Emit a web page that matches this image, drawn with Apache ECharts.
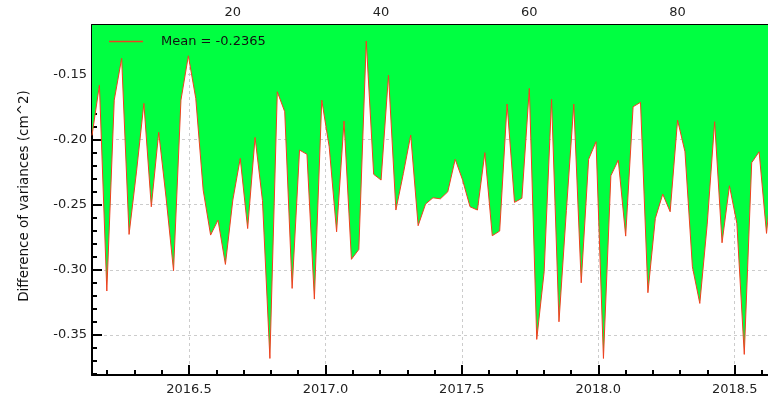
<!DOCTYPE html>
<html>
<head>
<meta charset="utf-8">
<script src="https://cdn.jsdelivr.net/npm/echarts@6/dist/echarts.min.js"></script>
<style>html,body{margin:0;padding:0;background:#fff}#c{width:768px;height:398px}</style>
</head>
<body>
<div id="c"></div>
<script>
// Difference of variances per acquisition index (index 1..93)
const diffValues = [
  -0.197, -0.1584, -0.3163, -0.1699, -0.1379, -0.2729, -0.225, -0.1724, -0.2517, -0.1946,
  -0.245, -0.3007, -0.1699, -0.1359, -0.1686, -0.2389, -0.2734, -0.2619, -0.2959, -0.2465,
  -0.2146, -0.2684, -0.1985, -0.247, -0.368, -0.1635, -0.1788, -0.3143, -0.2082, -0.2115,
  -0.3225, -0.1699, -0.2057, -0.2709, -0.186, -0.292, -0.2844, -0.1246, -0.2268, -0.2312,
  -0.1507, -0.2542, -0.2263, -0.1967, -0.2662, -0.2496, -0.2448, -0.2456, -0.2402, -0.2153,
  -0.2312, -0.2517, -0.2542, -0.2102, -0.2739, -0.2703, -0.1729, -0.2483, -0.2452, -0.1609,
  -0.3534, -0.3015, -0.1693, -0.3399, -0.2546, -0.1729, -0.31, -0.2153, -0.2018, -0.368,
  -0.2279, -0.2159, -0.2742, -0.175, -0.1716, -0.3176, -0.2606, -0.242, -0.2555, -0.1852,
  -0.2095, -0.2977, -0.3258, -0.265, -0.1865, -0.2793, -0.2356, -0.2644, -0.3649, -0.2179,
  -0.2095, -0.2721, -0.215
];
const firstIndex = 1;
const legendLabel = 'Mean = -0.2365';
const yTitle = 'Difference of variances (cm^2)';

const yearTicks = [2016.5, 2017.0, 2017.5, 2018.0, 2018.5];
const yearMinorTicks = [2016.2, 2016.3, 2016.4, 2016.6, 2016.7, 2016.8, 2016.9, 2017.1, 2017.2, 2017.3, 2017.4,
  2017.6, 2017.7, 2017.8, 2017.9, 2018.1, 2018.2, 2018.3, 2018.4, 2018.6];
const indexTicks = [20, 40, 60, 80];
const indexMinorTicks = [5, 10, 15, 25, 30, 35, 45, 50, 55, 65, 70, 75, 85, 90];
const yTicks = [-0.35, -0.30, -0.25, -0.20, -0.15];
const yMinorTicks = [-0.38, -0.37, -0.36, -0.34, -0.33, -0.32, -0.31, -0.29, -0.28, -0.27, -0.26,
  -0.24, -0.23, -0.22, -0.21, -0.19, -0.18, -0.17, -0.16, -0.14, -0.13, -0.12];

// visible window (the reference is cropped at the right edge)
const yearRange = [2016.1445, 2018.622];
const indexRange = [1, 92.2];
const yRange = [-0.3807, -0.1123];

const FONT = 'DejaVu Sans';
const seriesData = diffValues.map((v, i) => [firstIndex + i, v]);

const chart = echarts.init(document.getElementById('c'), null, {renderer: 'canvas'});
const axisLineStyle = {show: true, lineStyle: {color: '#000', width: 2}};
const dashed = {show: true, lineStyle: {color: '#cccccc', width: 1, type: [3, 3]}};
const labelStyle = {color: '#222', fontFamily: FONT, fontSize: 13};

chart.setOption({
  animation: false,
  backgroundColor: '#fff',
  grid: {left: 92, top: 25, right: 0, bottom: 23, containLabel: false},
  legend: {
    show: true, left: 104, top: 30, icon: 'rect', itemWidth: 34, itemHeight: 1.5,
    textStyle: {fontFamily: FONT, fontSize: 13, color: '#111', padding: [0, 0, 0, 13]},
    data: [legendLabel]
  },
  xAxis: [
    { // bottom: decimal year
      type: 'value', position: 'bottom', min: yearRange[0], max: yearRange[1],
      axisLine: axisLineStyle,
      axisTick: {show: true, inside: true, length: 10, lineStyle: {color: '#000', width: 2}, customValues: yearTicks},
      axisLabel: Object.assign({show: true, margin: 8, customValues: yearTicks, formatter: v => v.toFixed(1)}, labelStyle),
      splitLine: dashed
    },
    { // top: index
      type: 'value', position: 'top', min: indexRange[0], max: indexRange[1],
      axisLine: axisLineStyle,
      axisTick: {show: true, inside: true, length: 10, lineStyle: {color: '#000', width: 2}, customValues: indexTicks},
      axisLabel: Object.assign({show: true, margin: 6, customValues: indexTicks, formatter: v => String(v)}, labelStyle),
      splitLine: {show: false}
    },
    { // bottom minor
      type: 'value', position: 'bottom', min: yearRange[0], max: yearRange[1],
      axisLine: {show: false},
      axisTick: {show: true, inside: true, length: 5, lineStyle: {color: '#000', width: 2}, customValues: yearMinorTicks},
      axisLabel: {show: false}, splitLine: {show: false}
    },
    { // top minor
      type: 'value', position: 'top', min: indexRange[0], max: indexRange[1],
      axisLine: {show: false},
      axisTick: {show: true, inside: true, length: 5, lineStyle: {color: '#000', width: 2}, customValues: indexMinorTicks},
      axisLabel: {show: false}, splitLine: {show: false}
    }
  ],
  yAxis: [
    {
      type: 'value', position: 'left', min: yRange[0], max: yRange[1],
      name: yTitle, nameLocation: 'middle', nameGap: 61, nameRotate: 90,
      nameTextStyle: {fontFamily: FONT, fontSize: 13.5, color: '#111', padding: [0, 0, 0, 8]},
      axisLine: axisLineStyle,
      axisTick: {show: true, inside: true, length: 10, lineStyle: {color: '#000', width: 2}, customValues: yTicks},
      axisLabel: Object.assign({show: true, margin: 5, customValues: yTicks, formatter: v => v.toFixed(2)}, labelStyle),
      splitLine: dashed
    },
    {
      type: 'value', position: 'left', min: yRange[0], max: yRange[1],
      axisLine: {show: false},
      axisTick: {show: true, inside: true, length: 5, lineStyle: {color: '#000', width: 2}, customValues: yMinorTicks},
      axisLabel: {show: false}, splitLine: {show: false}
    }
  ],
  series: [{
    name: legendLabel,
    type: 'line',
    xAxisIndex: 1,
    yAxisIndex: 0,
    data: seriesData,
    showSymbol: false,
    symbol: 'none',
    clip: true,
    color: '#f04020',
    lineStyle: {color: '#f04020', width: 1},
    areaStyle: {origin: 'end', color: '#00ff41', opacity: 1},
    z: 1
  }]
});
</script>
</body>
</html>
